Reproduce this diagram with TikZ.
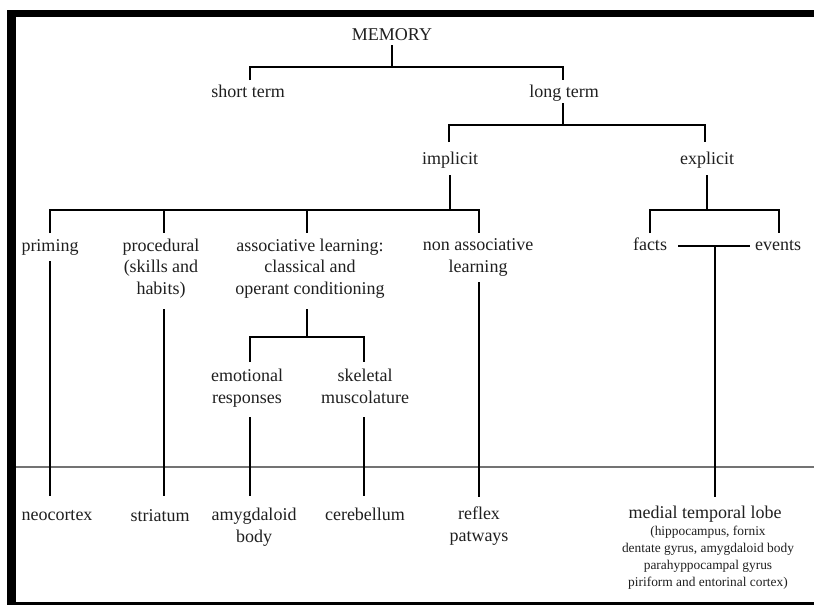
\documentclass[tikz,border=0pt]{standalone}
\usepackage{fontspec}
\setmainfont{Liberation Serif}
\begin{document}
\begin{tikzpicture}[x=1pt,y=-1pt,
  lbl/.style={anchor=base, inner sep=0pt, align=center, text=black!88,
    font=\fontsize{18}{21.5}\selectfont},
  small/.style={anchor=base, inner sep=0pt, align=center, text=black!88,
    font=\fontsize{13.4}{17}\selectfont},
  conn/.style={line width=2pt, black},
  sep/.style={line width=1.5pt, black!55},
  framebar/.style={fill=black, draw=none}]
\useasboundingbox (0,0) rectangle (814,605);
% frame
\fill[framebar] (7,9.5) rectangle (814,17);
\fill[framebar] (7,9.5) rectangle (16,605);
\fill[framebar] (7,601.5) rectangle (814,605);
% separator
\coordinate (sepL) at (16,467);
\coordinate (sepR) at (814,467);
\draw[sep] (sepL) -- (sepR);

% nodes (anchor base = baseline of the last line)
\node[lbl] (mem) at (392,40) {MEMORY};
\node[lbl] (st) at (248,97) {short term};
\node[lbl] (lt) at (564,97) {long term};
\node[lbl] (imp) at (450,164) {implicit};
\node[lbl] (exp) at (707,164) {explicit};
\node[lbl] (prim) at (50,251) {priming};
\node[lbl] (proc) at (161,294) {procedural\\(skills and\\habits)};
\node[lbl] (assoc) at (310,294) {associative learning:\\classical and\\operant conditioning};
\node[lbl] (nonas) at (478,272) {non associative\\learning};
\node[lbl] (facts) at (650,250) {facts};
\node[lbl] (events) at (778,250) {events};
\node[lbl] (emo) at (247,403) {emotional\\responses};
\node[lbl] (skel) at (365,403) {skeletal\\muscolature};
\node[lbl] (neo) at (57,520) {neocortex};
\node[lbl] (stri) at (160,521) {striatum};
\node[lbl] (amy) at (254,542) {amygdaloid\\body};
\node[lbl] (cereb) at (365,520) {cerebellum};
\node[lbl] (refl) at (479,541) {reflex\\patways};
\node[lbl] (mtl) at (705,518) {medial temporal lobe};
\node[small] (mtlsub) at (708,586) {(hippocampus, fornix\\dentate gyrus, amygdaloid body\\parahyppocampal gyrus\\piriform and entorinal cortex)};

% coordinates for the tree brackets
\coordinate (memD) at (392,45);
\coordinate (memJ) at (392,67);
\coordinate (j1L) at (250,67);
\coordinate (j1R) at (563,67);
\coordinate (stU) at (250,80);
\coordinate (ltU) at (563,80);
\coordinate (ltD) at (563,103);
\coordinate (ltJ) at (563,125);
\coordinate (j2L) at (449,125);
\coordinate (j2R) at (705,125);
\coordinate (impU) at (449,142);
\coordinate (expU) at (705,142);
\coordinate (impD) at (450,175);
\coordinate (impJ) at (450,210);
\coordinate (j3L) at (50,210);
\coordinate (j3B) at (164,210);
\coordinate (j3C) at (307,210);
\coordinate (j3R) at (479,210);
\coordinate (primU) at (50,233);
\coordinate (procU) at (164,233);
\coordinate (assocU) at (307,233);
\coordinate (nonasU) at (479,233);
\coordinate (expD) at (707,175);
\coordinate (expJ) at (707,210);
\coordinate (j4L) at (650,210);
\coordinate (j4R) at (779,210);
\coordinate (factsU) at (650,233);
\coordinate (eventsU) at (779,233);
\coordinate (feL) at (678,246);
\coordinate (feR) at (750,246);
\coordinate (feJ) at (715,246);
\coordinate (mtlU) at (715,497);
\coordinate (primD) at (50,261);
\coordinate (neoU) at (50,496);
\coordinate (procD) at (164,309);
\coordinate (striU) at (164,496);
\coordinate (assocD) at (307,309);
\coordinate (assocJ) at (307,337);
\coordinate (j5L) at (250,337);
\coordinate (j5R) at (364,337);
\coordinate (emoU) at (250,362);
\coordinate (skelU) at (364,362);
\coordinate (emoD) at (250,417);
\coordinate (amyU) at (250,496);
\coordinate (skelD) at (364,417);
\coordinate (cerebU) at (364,496);
\coordinate (nonasD) at (479,282);
\coordinate (reflU) at (479,497);

% connectors
\draw[conn] (memD) -- (memJ);
\draw[conn] (stU) -- (j1L) -- (j1R) -- (ltU);
\draw[conn] (ltD) -- (ltJ);
\draw[conn] (impU) -- (j2L) -- (j2R) -- (expU);
\draw[conn] (impD) -- (impJ);
\draw[conn] (primU) -- (j3L) -- (j3R) -- (nonasU);
\draw[conn] (j3B) -- (procU);
\draw[conn] (j3C) -- (assocU);
\draw[conn] (expD) -- (expJ);
\draw[conn] (factsU) -- (j4L) -- (j4R) -- (eventsU);
\draw[conn] (feL) -- (feR);
\draw[conn] (feJ) -- (mtlU);
\draw[conn] (primD) -- (neoU);
\draw[conn] (procD) -- (striU);
\draw[conn] (assocD) -- (assocJ);
\draw[conn] (emoU) -- (j5L) -- (j5R) -- (skelU);
\draw[conn] (emoD) -- (amyU);
\draw[conn] (skelD) -- (cerebU);
\draw[conn] (nonasD) -- (reflU);
\end{tikzpicture}
\end{document}
